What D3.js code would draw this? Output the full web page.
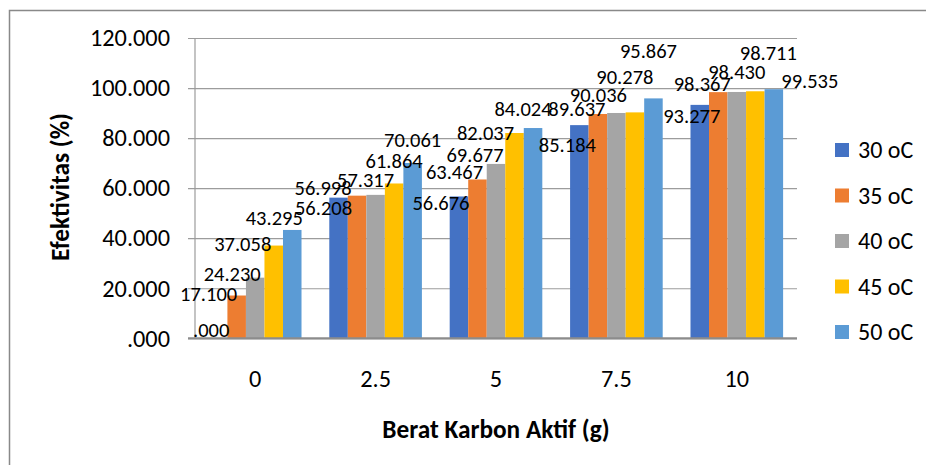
<!DOCTYPE html>
<html>
<head>
<meta charset="utf-8">
<script src="https://cdn.jsdelivr.net/npm/d3@7"></script>
<style>
  body { margin: 0; background: #fff; }
  svg { display: block; font-family: Carlito, Calibri, Lato, sans-serif; }
</style>
</head>
<body>
<div id="container"></div>
<script>
// categories on the x axis (berat karbon aktif, g)
let categories = ["0", "2.5", "5", "7.5", "10"];
let seriesNames = ["30 oC", "35 oC", "40 oC", "45 oC", "50 oC"];
// efektivitas (%) per temperature
let s30 = [0, 56.208, 56.676, 85.184, 93.277];
let s35 = [17.100, 56.998, 63.467, 89.637, 98.367];
let s40 = [24.230, 57.317, 69.677, 90.036, 98.430];
let s45 = [37.058, 61.864, 82.037, 90.278, 98.711];
let s50 = [43.295, 70.061, 84.024, 95.867, 99.535];
let yTicks = [0, 20, 40, 60, 80, 100, 120];

let colors = ["#4472C4", "#ED7D31", "#A5A5A5", "#FFC000", "#5B9BD5"];

// hand nudges of the data labels (dx, dy from top-centre of each bar),
// the labels in the original were dragged around
let labelNudge = [
  [[-7, -8], [-15, 10], [-18, 6], [-12, 20], [-8, 11]],
  [[-28, -2], [-34, -8], [-23, -8], [-21, -5], [-16, -8]],
  [[-23, -4], [-10, -15], [-21, -9], [-18, -18], [0, -20]],
  [[-31, -2], [0, -23], [-29, 0], [-10, -36], [13, -38]],
  [[-18, -12], [0, -23], [-10, -19], [-5, -48], [36, -8]]
];

let w = 926;
let h = 465;
let padL = 195, padR = 797, padT = 38, padB = 338.3;

let viz = d3.select("#container")
  .append("svg")
    .attr("width", w)
    .attr("height", h)
;

// outer chart border
viz.append("rect")
  .attr("x", 9.5).attr("y", 10.5)
  .attr("width", 940).attr("height", 480)
  .attr("fill", "none")
  .attr("stroke", "#898989")
  .attr("stroke-width", 1.5);

let allSeries = [s30, s35, s40, s45, s50];

let xScale = d3.scaleBand().domain(categories).range([padL, padR]).paddingInner(0).paddingOuter(0);
let yScale = d3.scaleLinear().domain([0, 120]).range([padB, padT]);
// inner scale: 5 bars + gap width 150%
let barW = xScale.bandwidth() / 6.5;
let xInner = d3.scaleBand().domain(d3.range(seriesNames.length))
  .range([barW * 0.75, barW * 5.75]);

// gridlines with small tick stubs
let yAxis = d3.axisLeft(yScale)
  .tickValues(yTicks)
  .tickSize(0)
  .tickFormat(function(d){ return d === 0 ? ".000" : d3.format(".3f")(d); });

let yAxisGroup = viz.append("g")
  .attr("transform", "translate(" + padR + ",0)")
  .call(yAxis);
yAxisGroup.select(".domain").remove();
yAxisGroup.selectAll(".tick line")
  .attr("stroke", "#9c9c9c").attr("stroke-width", 1.2)
  .attr("x1", 0).attr("x2", -(padR - padL) - 7);
yAxisGroup.selectAll(".tick text")
  .attr("x", -(padR - 170))
  .attr("font-size", 24.3)
  .attr("fill", "#000")
  .attr("font-family", "Carlito, Calibri, Lato, sans-serif");

// vertical axis line
viz.append("line")
  .attr("x1", padL).attr("x2", padL)
  .attr("y1", padT).attr("y2", padB)
  .attr("stroke", "#9c9c9c").attr("stroke-width", 1.2);

// bars
let groups = viz.selectAll(".series").data(allSeries).enter()
  .append("g")
    .attr("class", "series")
    .attr("fill", function(d, i){ return colors[i]; });

groups.each(function(vals, si){
  d3.select(this).selectAll("rect").data(vals).enter()
    .append("rect")
      .attr("x", function(d, ci){ return xScale(categories[ci]) + xInner(si); })
      .attr("y", function(d){ return yScale(d); })
      .attr("width", xInner.bandwidth())
      .attr("height", function(d){ return yScale(0) - yScale(d); });
});

// bottom axis line
viz.append("line")
  .attr("x1", padL - 7).attr("x2", padR)
  .attr("y1", padB).attr("y2", padB)
  .attr("stroke", "#8c8c8c").attr("stroke-width", 2);

// x labels
let xAxis = d3.axisBottom(xScale).tickSize(0).tickPadding(0);
let xAxisGroup = viz.append("g")
  .attr("transform", "translate(0," + padB + ")")
  .call(xAxis);
xAxisGroup.select(".domain").remove();
xAxisGroup.selectAll(".tick text")
  .attr("y", 40)
  .attr("dy", "0.35em")
  .attr("font-size", 24.3)
  .attr("fill", "#000")
  .attr("font-family", "Carlito, Calibri, Lato, sans-serif");

// data labels, in their own layer on top of all bars
let labelLayer = viz.append("g").attr("class", "labels");
allSeries.forEach(function(vals, si){
  labelLayer.selectAll(".lbl" + si).data(vals).enter()
    .append("text")
      .attr("class", "lbl" + si)
      .attr("x", function(d, ci){
        return xScale(categories[ci]) + xInner(si) + xInner.bandwidth() / 2 + labelNudge[si][ci][0];
      })
      .attr("y", function(d, ci){ return yScale(d) + labelNudge[si][ci][1]; })
      .attr("dy", "0.35em")
      .attr("text-anchor", "middle")
      .attr("font-size", 20.5)
      .attr("fill", "#000")
      .text(function(d){ return d === 0 ? ".000" : d3.format(".3f")(d); });
});

// axis titles
viz.append("text")
  .attr("transform", "translate(60,187) rotate(-90)")
  .attr("text-anchor", "middle")
  .attr("dy", "0.35em")
  .attr("font-size", 25.3)
  .attr("font-weight", "bold")
  .text("Efektivitas (%)");

viz.append("text")
  .attr("x", (padL + padR) / 2)
  .attr("y", 429)
  .attr("dy", "0.35em")
  .attr("text-anchor", "middle")
  .attr("font-size", 25.3)
  .attr("font-weight", "bold")
  .text("Berat Karbon Aktif (g)");

// legend
let legend = viz.selectAll(".legend").data(seriesNames).enter()
  .append("g")
    .attr("class", "legend")
    .attr("transform", function(d, i){ return "translate(835," + (150 + i * 45.5) + ")"; });
legend.append("rect")
  .attr("x", 0).attr("y", -7)
  .attr("width", 14).attr("height", 14)
  .attr("fill", function(d, i){ return colors[i]; });
legend.append("text")
  .attr("x", 23)
  .attr("dy", "0.35em")
  .attr("font-size", 24)
  .text(function(d){ return d; });
</script>
</body>
</html>
